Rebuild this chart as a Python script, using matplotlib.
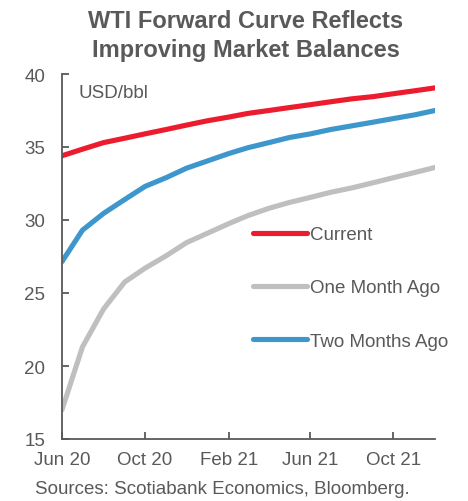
import matplotlib
matplotlib.use("Agg")
import matplotlib.pyplot as plt
import matplotlib.dates as mdates
import pandas as pd

plt.rcParams['font.family'] = ['Liberation Sans', 'DejaVu Sans']

# Monthly WTI futures contracts, Jun 2020 - Dec 2021 (USD/bbl)
months = pd.date_range("2020-06-01", "2021-12-01", freq="MS")
current = [34.4, 34.85, 35.3, 35.6, 35.9, 36.2, 36.5, 36.8, 37.05, 37.3,
           37.5, 37.7, 37.9, 38.1, 38.3, 38.45, 38.65, 38.85, 39.05]
one_month_ago = [17.0, 21.3, 23.9, 25.75, 26.7, 27.55, 28.45, 29.1, 29.75, 30.3,
                 30.8, 31.2, 31.55, 31.9, 32.2, 32.55, 32.9, 33.25, 33.6]
two_months_ago = [27.15, 29.3, 30.45, 31.4, 32.3, 32.9, 33.55, 34.05, 34.55, 34.95,
                  35.3, 35.65, 35.9, 36.2, 36.45, 36.7, 36.95, 37.2, 37.5]
series_labels = ["Current", "One Month Ago", "Two Months Ago"]
tick_dates = pd.to_datetime(["2020-06-01", "2020-10-01", "2021-02-01", "2021-06-01", "2021-10-01"])
y_ticks = [15, 20, 25, 30, 35, 40]

RED = "#EC1C2E"
GREY = "#BFBFBF"
BLUE = "#3E97CC"
TEXT = "#595959"

W, H = 468, 502
fig = plt.figure(figsize=(W / 100, H / 100), dpi=100)
ax = fig.add_axes([62 / W, 1 - 440 / H, (435 - 62) / W, (440 - 75) / H])

lw = 3.7
for vals, col, lab in zip([current, one_month_ago, two_months_ago],
                          [RED, GREY, BLUE], series_labels):
    ax.plot(months, vals, color=col, lw=lw, label=lab,
            solid_capstyle="round", solid_joinstyle="round")

ax.set_xlim(months[0], months[-1])
ax.set_ylim(15, 40)
ax.set_yticks(y_ticks)
ax.set_xticks(tick_dates)
ax.xaxis.set_major_formatter(mdates.DateFormatter("%b %y"))

for side in ("top", "right"):
    ax.spines[side].set_visible(False)
for side in ("left", "bottom"):
    ax.spines[side].set_color(TEXT)
    ax.spines[side].set_linewidth(1.3)
ax.tick_params(axis="both", direction="in", length=5, width=1.3, color=TEXT,
               labelcolor=TEXT, labelsize=13.5)
ax.tick_params(axis="y", pad=12)
ax.tick_params(axis="x", pad=9)

ax.text((78 - 62) / 373, (440 - 85) / 365, "USD/bbl", transform=ax.transAxes,
        ha="left", va="top", fontsize=13.5, color=TEXT)

leg = ax.legend(loc="upper left", bbox_to_anchor=((253 - 62) / 373, (440 - 227) / 365),
                frameon=False, fontsize=13.5, handlelength=2.9, handletextpad=0.15,
                labelspacing=1.93, borderpad=0, borderaxespad=0)
for t in leg.get_texts():
    t.set_color(TEXT)
for h in leg.get_lines():
    h.set_solid_capstyle("round")

fig.text(246 / W, 1 - 28 / H, "WTI Forward Curve Reflects", ha="center", va="baseline",
         fontsize=17, fontweight="bold", color=TEXT)
fig.text(246 / W, 1 - 57 / H, "Improving Market Balances", ha="center", va="baseline",
         fontsize=17, fontweight="bold", color=TEXT)
fig.text(222 / W, 1 - 494 / H, "Sources: Scotiabank Economics, Bloomberg.", ha="center",
         va="baseline", fontsize=13.5, color=TEXT)

fig.savefig("out.png", dpi=100)
